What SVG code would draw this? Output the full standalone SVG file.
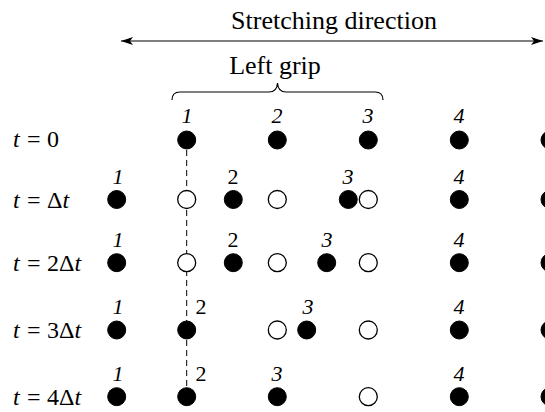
<svg xmlns="http://www.w3.org/2000/svg" width="545" height="412" viewBox="0 0 545 412">
  <style>
    text { font-family: "Liberation Serif", "Times New Roman", serif; font-size: 22px; fill: #000; }
    .big { font-size: 26px; }
    .lab { font-size: 24px; }
    .it { font-style: italic; }
    .num { text-anchor: middle; }
    .full { fill: #000; stroke: #000; stroke-width: 1; }
    .open { fill: #fff; stroke: #000; stroke-width: 1.3; }
    .line { stroke: #000; stroke-width: 1.2; fill: none; }
  </style>
  <defs>
    <marker id="head" viewBox="0 0 12 8" refX="12" refY="4" markerWidth="12" markerHeight="8" markerUnits="userSpaceOnUse" orient="auto-start-reverse">
      <path d="M0,0 L12,4 L0,8 L3,4 Z" fill="#000"/>
    </marker>
  </defs>

  <g id="header">
    <text class="big" x="334" y="29" text-anchor="middle">Stretching direction</text>
    <line class="line" x1="121" y1="41" x2="543" y2="41" marker-start="url(#head)" marker-end="url(#head)"/>
    <text class="big" x="275" y="74" text-anchor="middle">Left grip</text>
    <path class="line" d="M172,100 Q172,92 180,92 L269,92 Q277,92 277.5,83 Q278,92 286,92 L375,92 Q383,92 383,100"/>
  </g>

  <g id="connectors">
    <line x1="186.7" y1="140" x2="186.7" y2="396" stroke="#000" stroke-width="1" stroke-dasharray="6,4"/>
  </g>

  <g id="row-t0">
    <text class="lab it" x="13" y="147">t</text><text class="lab" x="27" y="147">=</text><text class="lab" x="47" y="147">0</text>
    <circle class="full" cx="186.7" cy="140" r="9"/>
    <circle class="full" cx="277.3" cy="140" r="9"/>
    <circle class="full" cx="368.3" cy="140" r="9"/>
    <circle class="full" cx="459.3" cy="140" r="9"/>
    <circle class="full" cx="550" cy="140" r="9"/>
    <text class="it num" x="187" y="123">1</text>
    <text class="it num" x="277" y="123">2</text>
    <text class="it num" x="368" y="123">3</text>
    <text class="it num" x="459" y="123">4</text>
    <text class="it num" x="552" y="123">5</text>
  </g>

  <g id="row-t1">
    <text class="lab it" x="13" y="208">t</text><text class="lab" x="27" y="208">=</text><text class="lab" x="47" y="208">Δ<tspan class="it">t</tspan></text>
    <circle class="full" cx="116.7" cy="199.5" r="9"/>
    <circle class="open" cx="186.7" cy="199.5" r="9"/>
    <circle class="full" cx="233.3" cy="199.5" r="9"/>
    <circle class="open" cx="277.3" cy="199.5" r="9"/>
    <circle class="full" cx="348.3" cy="199.5" r="9"/>
    <circle class="open" cx="368.3" cy="199.5" r="9"/>
    <circle class="full" cx="459.3" cy="199.5" r="9"/>
    <circle class="full" cx="550" cy="199.5" r="9"/>
    <text class="it num" x="118" y="184">1</text>
    <text class="num" x="233" y="184">2</text>
    <text class="it num" x="348" y="184">3</text>
    <text class="it num" x="459" y="184">4</text>
    <text class="it num" x="552" y="184">5</text>
  </g>

  <g id="row-t2">
    <text class="lab it" x="13" y="271">t</text><text class="lab" x="27" y="271">=</text><text class="lab" x="47" y="271">2Δ<tspan class="it">t</tspan></text>
    <circle class="full" cx="116.7" cy="262.7" r="9"/>
    <circle class="open" cx="186.7" cy="262.7" r="9"/>
    <circle class="full" cx="233.3" cy="262.7" r="9"/>
    <circle class="open" cx="277.3" cy="262.7" r="9"/>
    <circle class="full" cx="326.7" cy="262.7" r="9"/>
    <circle class="open" cx="368.3" cy="262.7" r="9"/>
    <circle class="full" cx="459.3" cy="262.7" r="9"/>
    <circle class="full" cx="550" cy="262.7" r="9"/>
    <text class="it num" x="118" y="247">1</text>
    <text class="num" x="233" y="247">2</text>
    <text class="it num" x="327" y="247">3</text>
    <text class="it num" x="459" y="247">4</text>
    <text class="it num" x="552" y="247">5</text>
  </g>

  <g id="row-t3">
    <text class="lab it" x="13" y="338">t</text><text class="lab" x="27" y="338">=</text><text class="lab" x="47" y="338">3Δ<tspan class="it">t</tspan></text>
    <circle class="full" cx="116.7" cy="330" r="9"/>
    <circle class="full" cx="186.7" cy="330" r="9"/>
    <circle class="open" cx="277.3" cy="330" r="9"/>
    <circle class="full" cx="306.7" cy="330" r="9"/>
    <circle class="open" cx="368.3" cy="330" r="9"/>
    <circle class="full" cx="459.3" cy="330" r="9"/>
    <circle class="full" cx="550" cy="330" r="9"/>
    <text class="it num" x="118" y="314">1</text>
    <text class="num" x="201" y="314">2</text>
    <text class="it num" x="308" y="314">3</text>
    <text class="it num" x="459" y="314">4</text>
    <text class="it num" x="552" y="314">5</text>
  </g>

  <g id="row-t4">
    <text class="lab it" x="13" y="405">t</text><text class="lab" x="27" y="405">=</text><text class="lab" x="47" y="405">4Δ<tspan class="it">t</tspan></text>
    <circle class="full" cx="116.7" cy="396.7" r="9"/>
    <circle class="full" cx="186.7" cy="396.7" r="9"/>
    <circle class="full" cx="277.3" cy="396.7" r="9"/>
    <circle class="open" cx="368.3" cy="396.7" r="9"/>
    <circle class="full" cx="459.3" cy="396.7" r="9"/>
    <circle class="full" cx="550" cy="396.7" r="9"/>
    <text class="it num" x="118" y="381">1</text>
    <text class="num" x="201" y="381">2</text>
    <text class="it num" x="277" y="381">3</text>
    <text class="it num" x="459" y="381">4</text>
    <text class="it num" x="552" y="381">5</text>
  </g>
</svg>
